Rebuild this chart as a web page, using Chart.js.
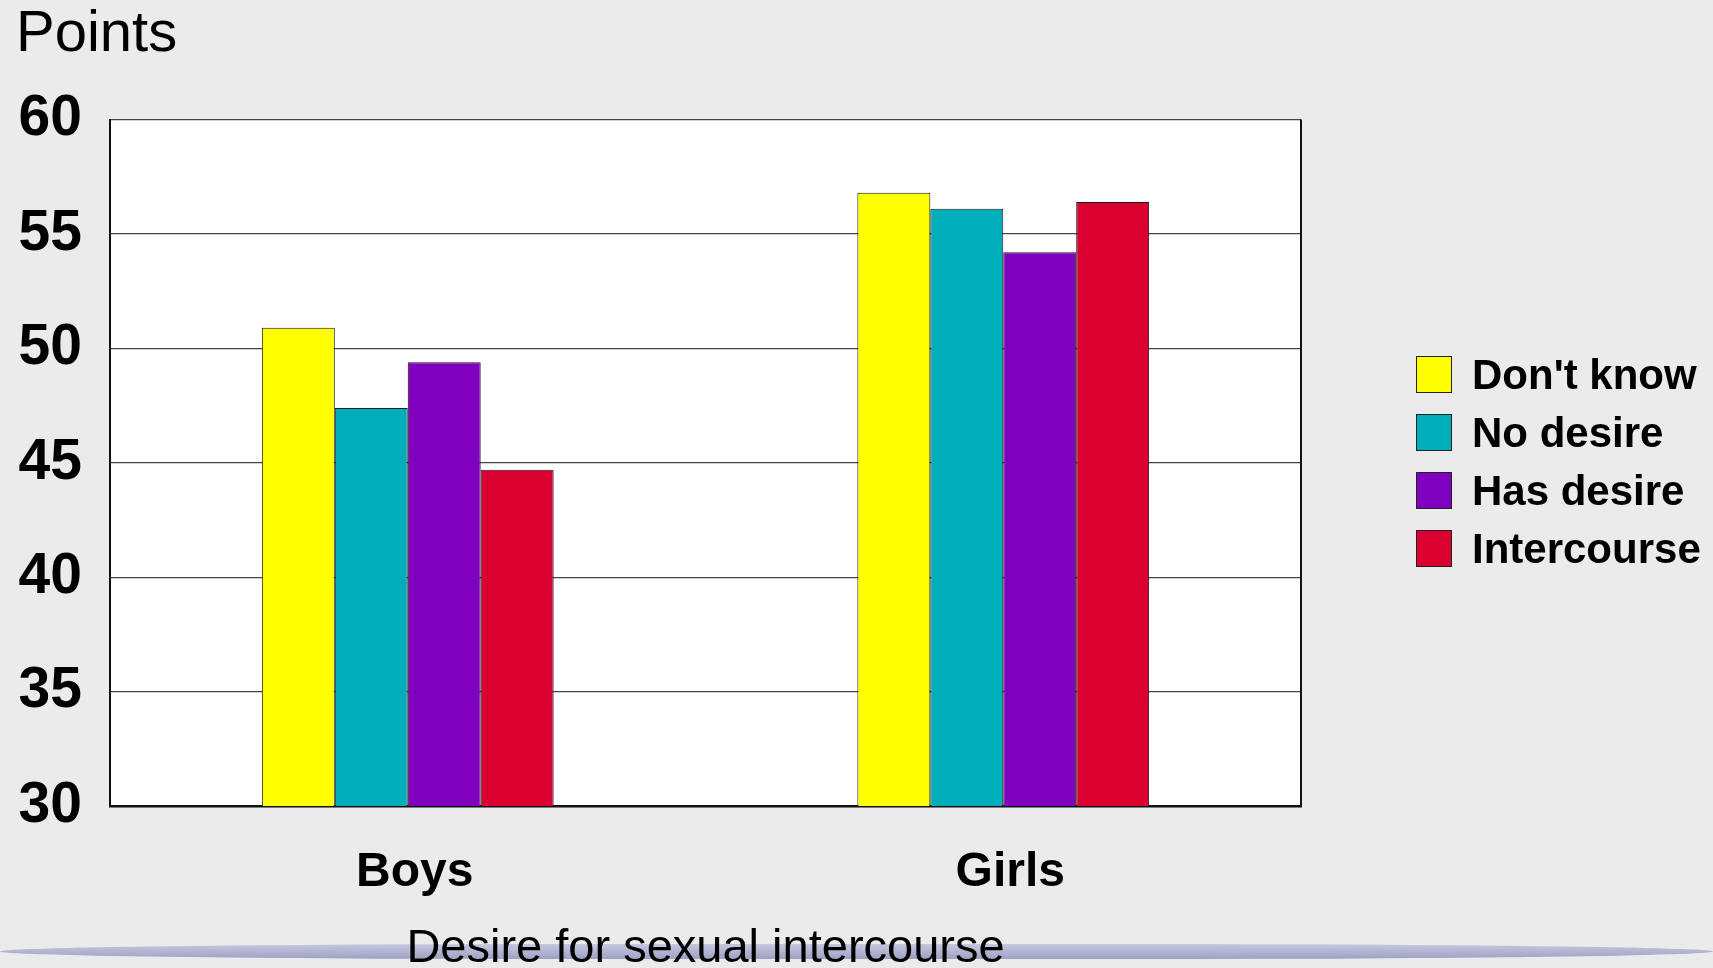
<!DOCTYPE html>
<html>
<head>
<meta charset="utf-8">
<title>Desire for sexual intercourse</title>
<script src="https://cdn.jsdelivr.net/npm/chart.js@4.4.0/dist/chart.umd.min.js"></script>
<style>
  html, body { margin: 0; padding: 0; background: #ebebeb; overflow: hidden; }
  #wrap { position: relative; width: 1713px; height: 968px; }
  /* slide decoration along the bottom */
  #wave { position: absolute; left: 0; top: 944px; width: 1713px; height: 15px;
          background: linear-gradient(#c6c8e0, #9ea1c2); border-radius: 40% / 60%; }
  canvas { position: absolute; left: 0; top: 0; }
  #legend { position: absolute; left: 1416px; top: 356px; margin: 0; padding: 0; list-style: none;
            font-family: "Liberation Sans", Arial, sans-serif; font-weight: bold; font-size: 42px; color: #000; }
  #legend li { display: flex; align-items: center; height: 37px; margin-bottom: 21px; white-space: nowrap; }
  #legend .box { width: 34px; height: 35px; border: 1px solid #222; margin-right: 20px; flex: none; }
</style>
</head>
<body>
<div id="wrap">
  <div id="wave"></div>
  <canvas id="mainChart" width="1713" height="968"></canvas>
  <ul id="legend"></ul>
</div>
<script>
// ---- data ----
const groups = ['Boys', 'Girls'];
const seriesNames = ["Don't know", 'No desire', 'Has desire', 'Intercourse'];
const dontKnow = [50.9, 56.8];
const noDesire = [47.4, 56.1];
const hasDesire = [49.4, 54.2];
const intercourse = [44.7, 56.4];
const seriesColors = ['#ffff00', '#00aebb', '#7f00bf', '#da0030'];
const yTicks = [30, 35, 40, 45, 50, 55, 60];

const FONT = '"Liberation Sans", Arial, sans-serif';

// white plot background + right frame line
const plotFrame = {
    id: 'plotFrame',
    beforeDraw(chart) {
        const { ctx, chartArea: a } = chart;
        ctx.save();
        ctx.fillStyle = '#ffffff';
        ctx.fillRect(a.left, a.top, a.right - a.left, a.bottom - a.top);
        ctx.restore();
    },
    afterDraw(chart) {
        const { ctx, chartArea: a } = chart;
        ctx.save();
        ctx.strokeStyle = '#111';
        ctx.lineWidth = 2;
        ctx.beginPath();
        ctx.moveTo(a.right, a.top);
        ctx.lineTo(a.right, a.bottom);
        ctx.stroke();
        ctx.restore();
    }
};

function makeSet(label, data, i) {
    return {
        label: label,
        data: data,
        backgroundColor: seriesColors[i],
        borderColor: '#1a1a1a',
        borderWidth: 1,
        categoryPercentage: 0.49,
        barPercentage: 1.0
    };
}

// html legend
const legendEl = document.getElementById('legend');
seriesNames.forEach((name, i) => {
    const li = document.createElement('li');
    const box = document.createElement('span');
    box.className = 'box';
    box.style.background = seriesColors[i];
    li.appendChild(box);
    li.appendChild(document.createTextNode(name));
    legendEl.appendChild(li);
});

const ctx = document.getElementById('mainChart').getContext('2d');
new Chart(ctx, {
    type: 'bar',
    data: {
        labels: groups,
        datasets: [
            makeSet(seriesNames[0], dontKnow, 0),
            makeSet(seriesNames[1], noDesire, 1),
            makeSet(seriesNames[2], hasDesire, 2),
            makeSet(seriesNames[3], intercourse, 3)
        ]
    },
    options: {
        responsive: false,
        animation: false,
        layout: { padding: { left: 16, right: 412, top: 0, bottom: 0 } },
        plugins: {
            tooltip: { enabled: false },
            legend: { display: false },
            title: {
                display: true,
                text: 'Points',
                align: 'start',
                color: '#000',
                font: { family: FONT, size: 58, weight: 'normal' },
                padding: { top: 0, bottom: 50 }
            }
        },
        scales: {
            x: {
                grid: { display: false, drawTicks: false },
                border: { display: true, color: '#111', width: 2.5 },
                ticks: {
                    color: '#000',
                    padding: 38,
                    labelOffset: 7,
                    font: { family: FONT, size: 48, weight: 'bold' }
                },
                title: {
                    display: true,
                    text: 'Desire for sexual intercourse',
                    color: '#000',
                    font: { family: FONT, size: 47, weight: 'normal' },
                    padding: { top: 0, bottom: -9 }
                },
                afterFit(scale) { scale.height = 162; }
            },
            y: {
                min: 30,
                max: 60,
                afterBuildTicks(scale) { scale.ticks = yTicks.map(v => ({ value: v })); },
                grid: { color: '#444', lineWidth: 1.2, drawTicks: false },
                border: { display: true, color: '#111', width: 2 },
                ticks: {
                    color: '#000',
                    padding: 28,
                    font: { family: FONT, size: 57, weight: 'bold' }
                },
                afterFit(scale) { scale.width = 94; }
            }
        }
    },
    plugins: [plotFrame]
});
</script>
</body>
</html>
